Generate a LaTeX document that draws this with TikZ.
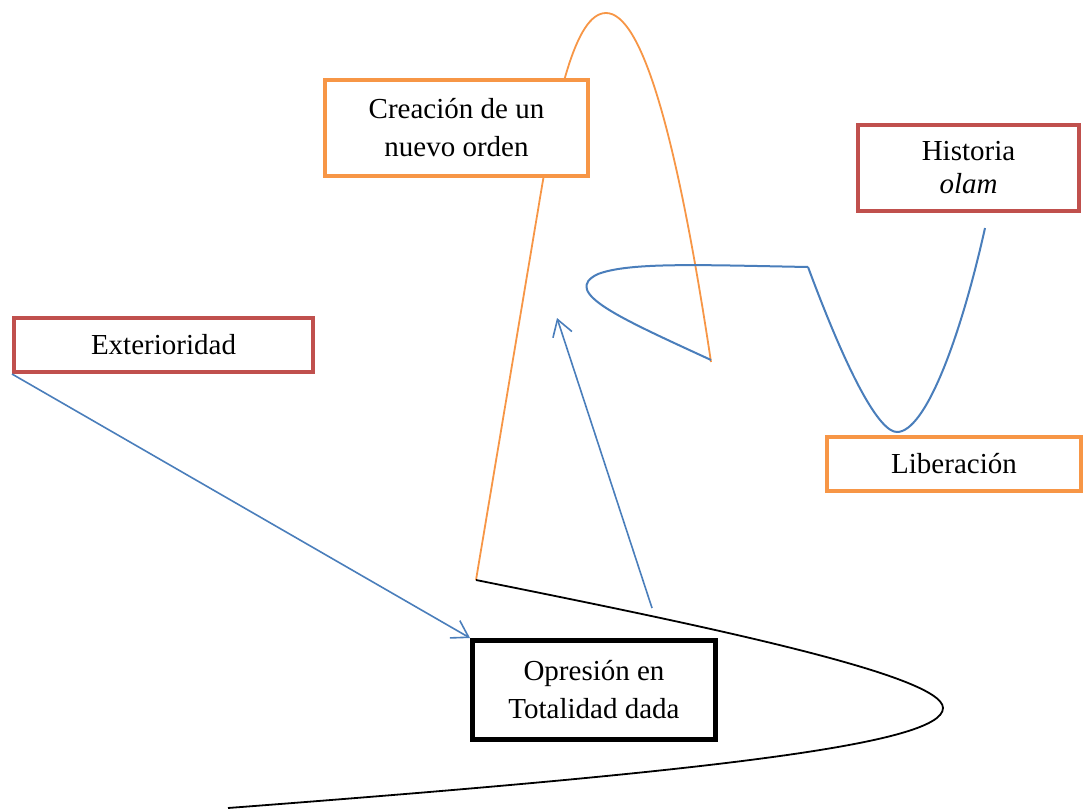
\documentclass[tikz,border=0pt]{standalone}
\usepackage{fontspec}
\setmainfont{Liberation Serif}
\usetikzlibrary{arrows.meta}

\definecolor{cajaroja}{HTML}{C0504D}
\definecolor{cajanaranja}{HTML}{F79646}
\definecolor{lineaazul}{HTML}{4A7EBB}

\begin{document}
\begin{tikzpicture}[x=1pt, y=-1pt,
    caja/.style={draw, fill=white, inner sep=0pt, align=center,
        font=\fontsize{29}{38}\selectfont},
    cajaroja/.style={caja, draw=cajaroja, line width=4pt},
    cajanaranja/.style={caja, draw=cajanaranja, line width=4pt},
    cajanegra/.style={caja, draw=black, line width=5pt},
    flecha/.style={lineaazul, line width=1.6pt, -{Straight Barb[length=16pt, width=20pt]}}]
    \useasboundingbox (0,0) rectangle (1083,811);

    % Curvas
    \draw[cajanaranja, line width=1.8pt] (476,580) -- (538,210) .. controls (556,100) and (575,13) .. (606,13)
        .. controls (641,13) and (676,129) .. (711,362);
    \draw[black, line width=1.8pt] (476,580) .. controls (700,625) and (943,675) .. (943,708)
        .. controls (943,745) and (700,772) .. (228,808);
    \draw[lineaazul, line width=2pt] (711,360) .. controls (620,318) and (560,292) .. (598,274)
        .. controls (630,262) and (700,265) .. (808,267);
    \draw[lineaazul, line width=2pt] (808,267) .. controls (850,380) and (880,432) .. (897,432)
        .. controls (925,432) and (960,340) .. (985,228);

    % Cajas
    \node[cajanaranja, minimum width=263, minimum height=96] (creacion) at (456.5,128)
        {Creación de un\\nuevo orden};
    \node[cajaroja, minimum width=221, minimum height=86, font=\fontsize{29}{33}\selectfont]
        (historia) at (968.5,168) {Historia\\\textit{olam}};
    \node[cajaroja, minimum width=299, minimum height=54] (exterioridad) at (163.5,345)
        {Exterioridad};
    \node[cajanaranja, minimum width=254, minimum height=54] (liberacion) at (954,464)
        {Liberación};
    \node[cajanegra, minimum width=243, minimum height=99] (opresion) at (594,690)
        {Opresión en\\Totalidad dada};

    % Flechas
    \coordinate (desde) at (652,608);
    \coordinate (hasta) at (557,318);
    \draw[flecha] (exterioridad.south west) -- (opresion.north west);
    \draw[flecha] (desde) -- (hasta);
\end{tikzpicture}
\end{document}
